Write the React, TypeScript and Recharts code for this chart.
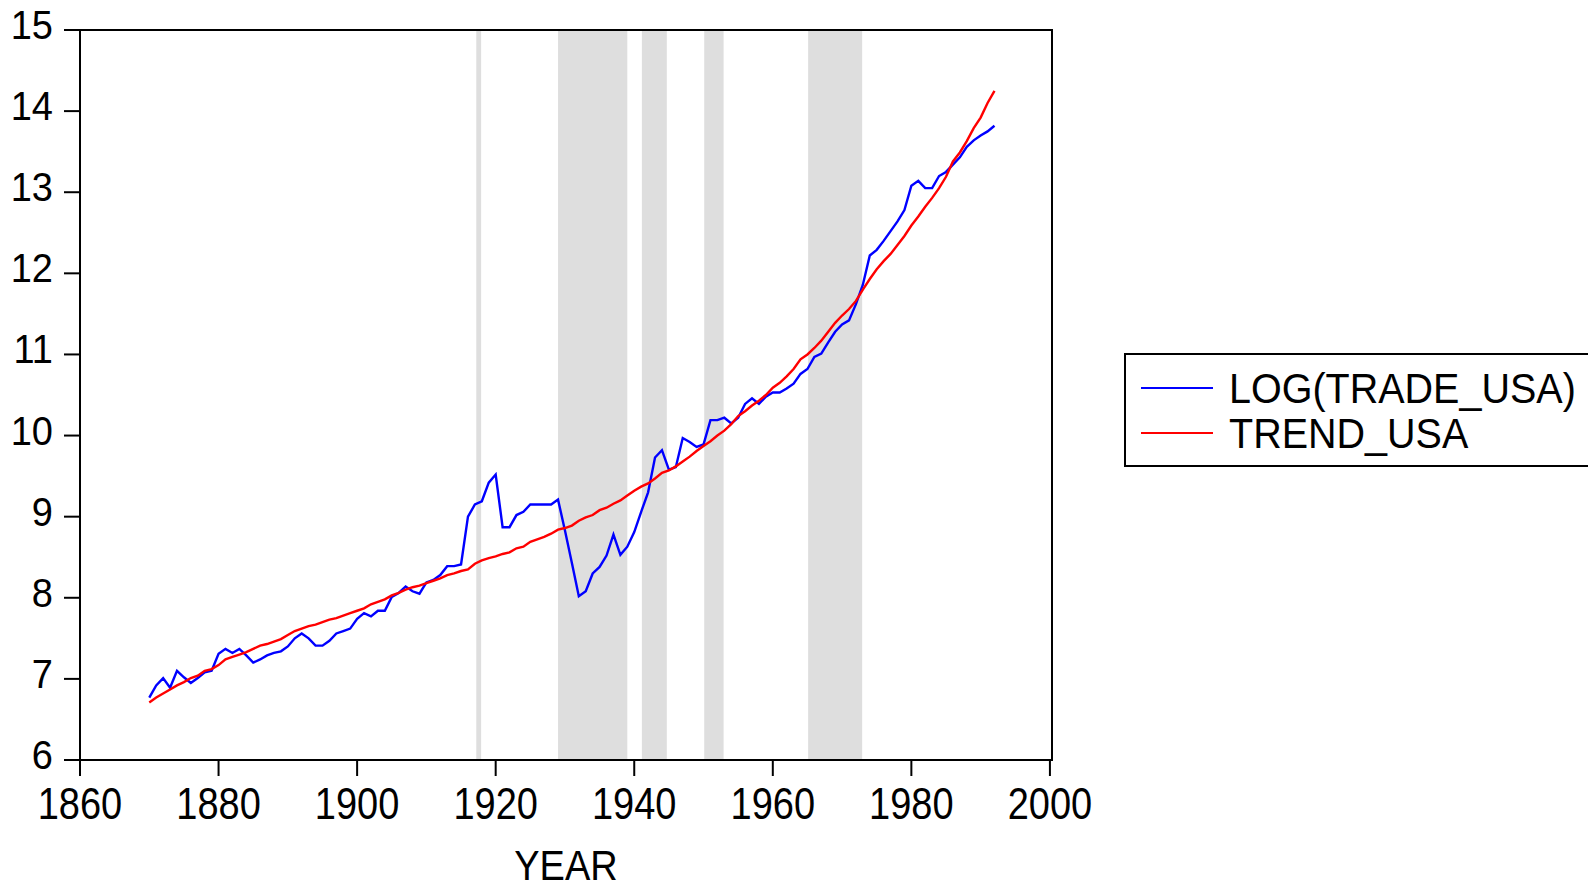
import {
  Line,
  LineChart,
  ReferenceArea,
  XAxis,
  YAxis,
} from "recharts";

const years = [
  1870, 1871, 1872, 1873, 1874, 1875, 1876, 1877, 1878, 1879,
  1880, 1881, 1882, 1883, 1884, 1885, 1886, 1887, 1888, 1889,
  1890, 1891, 1892, 1893, 1894, 1895, 1896, 1897, 1898, 1899,
  1900, 1901, 1902, 1903, 1904, 1905, 1906, 1907, 1908, 1909,
  1910, 1911, 1912, 1913, 1914, 1915, 1916, 1917, 1918, 1919,
  1920, 1921, 1922, 1923, 1924, 1925, 1926, 1927, 1928, 1929,
  1930, 1931, 1932, 1933, 1934, 1935, 1936, 1937, 1938, 1939,
  1940, 1941, 1942, 1943, 1944, 1945, 1946, 1947, 1948, 1949,
  1950, 1951, 1952, 1953, 1954, 1955, 1956, 1957, 1958, 1959,
  1960, 1961, 1962, 1963, 1964, 1965, 1966, 1967, 1968, 1969,
  1970, 1971, 1972, 1973, 1974, 1975, 1976, 1977, 1978, 1979,
  1980, 1981, 1982, 1983, 1984, 1985, 1986, 1987, 1988, 1989,
  1990, 1991, 1992,
];

// LOG(TRADE_USA)
const tradeUsa = [
  6.77, 6.92, 7.01, 6.89, 7.10, 7.02, 6.95, 7.01, 7.08, 7.10,
  7.31, 7.37, 7.32, 7.37, 7.29, 7.20, 7.24, 7.29, 7.32, 7.34,
  7.40, 7.50, 7.56, 7.50, 7.41, 7.41, 7.47, 7.56, 7.59, 7.62,
  7.74, 7.81, 7.77, 7.84, 7.84, 8.01, 8.06, 8.14, 8.08, 8.05,
  8.19, 8.22, 8.28, 8.39, 8.39, 8.41, 9.00, 9.15, 9.19, 9.42,
  9.52, 8.87, 8.87, 9.02, 9.06, 9.15, 9.15, 9.15, 9.15, 9.21,
  8.83, 8.43, 8.02, 8.08, 8.30, 8.38, 8.52, 8.78, 8.53, 8.63,
  8.81, 9.06, 9.30, 9.73, 9.82, 9.58, 9.61, 9.97, 9.92, 9.86,
  9.89, 10.19, 10.19, 10.22, 10.15, 10.22, 10.39, 10.46, 10.39, 10.48,
  10.53, 10.53, 10.58, 10.64, 10.76, 10.82, 10.97, 11.01, 11.15, 11.28,
  11.37, 11.42, 11.62, 11.86, 12.22, 12.29, 12.40, 12.52, 12.64, 12.78,
  13.08, 13.14, 13.05, 13.05, 13.20, 13.25, 13.34, 13.43, 13.56, 13.64,
  13.70, 13.75, 13.82,
];

// TREND_USA
const trendUsa = [
  6.71, 6.77, 6.82, 6.87, 6.92, 6.96, 7.01, 7.04, 7.10, 7.12,
  7.17, 7.24, 7.27, 7.30, 7.33, 7.37, 7.41, 7.43, 7.46, 7.49,
  7.54, 7.59, 7.62, 7.65, 7.67, 7.70, 7.73, 7.75, 7.78, 7.81,
  7.84, 7.87, 7.92, 7.95, 7.98, 8.03, 8.06, 8.10, 8.13, 8.15,
  8.18, 8.21, 8.24, 8.28, 8.30, 8.33, 8.35, 8.42, 8.46, 8.49,
  8.51, 8.54, 8.56, 8.61, 8.63, 8.69, 8.72, 8.75, 8.79, 8.84,
  8.86, 8.89, 8.95, 8.99, 9.02, 9.08, 9.11, 9.16, 9.20, 9.26,
  9.32, 9.37, 9.41, 9.47, 9.54, 9.57, 9.62, 9.68, 9.74, 9.81,
  9.87, 9.93, 10.00, 10.06, 10.14, 10.24, 10.30, 10.37, 10.43, 10.50,
  10.59, 10.65, 10.73, 10.82, 10.94, 11.00, 11.08, 11.17, 11.28, 11.39,
  11.48, 11.56, 11.66, 11.80, 11.93, 12.05, 12.15, 12.24, 12.35, 12.46,
  12.59, 12.70, 12.82, 12.93, 13.05, 13.19, 13.38, 13.49, 13.63, 13.79,
  13.92, 14.10, 14.25,
];

// shaded periods [start, end]
const shadeStart = [1917.2, 1929.0, 1941.1, 1950.1, 1965.1];
const shadeEnd = [1917.9, 1939.0, 1944.7, 1952.9, 1972.9];

const xTicks = [1860, 1880, 1900, 1920, 1940, 1960, 1980, 2000];
const yTicks = [6, 7, 8, 9, 10, 11, 12, 13, 14, 15];

const seriesNames = ["LOG(TRADE_USA)", "TREND_USA"];
const seriesColors = ["#0000ff", "#ff0000"];

const data = years.map((year, i) => ({
  year,
  trade: tradeUsa[i],
  trend: trendUsa[i],
}));

const FONT = "'Liberation Sans', Arial, sans-serif";

const YTick = (props: any) => {
  const { x, y, payload } = props;
  return (
    <text
      transform={`translate(${x},${y + 9}) scale(1,1.08)`}
      textAnchor="end"
      fontSize={38}
      fill="#000"
      fontFamily={FONT}
    >
      {payload.value}
    </text>
  );
};

const XTick = (props: any) => {
  const { x, y, payload } = props;
  return (
    <text
      transform={`translate(${x},${y + 41}) scale(1,1.18)`}
      textAnchor="middle"
      fontSize={38}
      fill="#000"
      fontFamily={FONT}
    >
      {payload.value}
    </text>
  );
};

const YearLabel = (props: any) => {
  const { viewBox } = props;
  return (
    <text
      transform={`translate(${viewBox.x + viewBox.width / 2},${viewBox.y + 120}) scale(1,1.12)`}
      textAnchor="middle"
      fontSize={38}
      fill="#000"
      fontFamily={FONT}
    >
      YEAR
    </text>
  );
};

export default function App() {
  return (
    <div
      style={{
        position: "fixed",
        left: 0,
        top: 0,
        width: 1588,
        height: 891,
        overflow: "hidden",
        background: "#fff",
        fontFamily: FONT,
      }}
    >
      <LineChart
        width={1588}
        height={891}
        data={data}
        margin={{ top: 30, right: 536, bottom: 0, left: 0 }}
      >
        {shadeStart.map((s, i) => (
          <ReferenceArea
            key={s}
            x1={s}
            x2={shadeEnd[i]}
            y1={6}
            y2={15}
            fill="#dedede"
            fillOpacity={1}
            stroke="none"
          />
        ))}
        <ReferenceArea
          x1={1860}
          x2={2000.3}
          y1={6}
          y2={15}
          fill="none"
          stroke="#000"
          strokeWidth={2}
          ifOverflow="visible"
        />
        <XAxis
          dataKey="year"
          type="number"
          domain={[1860, 2000.3]}
          ticks={xTicks}
          allowDataOverflow
          height={131}
          tickSize={16}
          tickMargin={2}
          axisLine={{ stroke: "#000", strokeWidth: 2 }}
          tickLine={{ stroke: "#000", strokeWidth: 2 }}
          tick={<XTick />}
          label={<YearLabel />}
        />
        <YAxis
          type="number"
          domain={[6, 15]}
          ticks={yTicks}
          width={80}
          tickSize={16}
          tickMargin={11}
          axisLine={{ stroke: "#000", strokeWidth: 2 }}
          tickLine={{ stroke: "#000", strokeWidth: 2 }}
          tick={<YTick />}
        />
        <Line
          type="linear"
          dataKey="trade"
          name={seriesNames[0]}
          stroke={seriesColors[0]}
          strokeWidth={2.4}
          dot={false}
          isAnimationActive={false}
        />
        <Line
          type="linear"
          dataKey="trend"
          name={seriesNames[1]}
          stroke={seriesColors[1]}
          strokeWidth={2.4}
          dot={false}
          isAnimationActive={false}
        />
      </LineChart>

      <div
        style={{
          position: "absolute",
          left: 1124,
          top: 353,
          width: 480,
          height: 114,
          border: "2px solid #000",
          boxSizing: "border-box",
        }}
      >
        {seriesNames.map((name, i) => (
          <div
            key={name}
            style={{
              position: "absolute",
              left: 15,
              top: 11 + i * 44.5,
              height: 44,
              display: "flex",
              alignItems: "center",
              whiteSpace: "nowrap",
            }}
          >
            <div style={{ width: 72, height: 2, background: seriesColors[i], marginRight: 16 }} />
            <span
              style={{
                fontSize: 39.5,
                lineHeight: "44px",
                color: "#000",
                display: "inline-block",
                transform: "scaleY(1.08)",
              }}
            >
              {name}
            </span>
          </div>
        ))}
      </div>
    </div>
  );
}
